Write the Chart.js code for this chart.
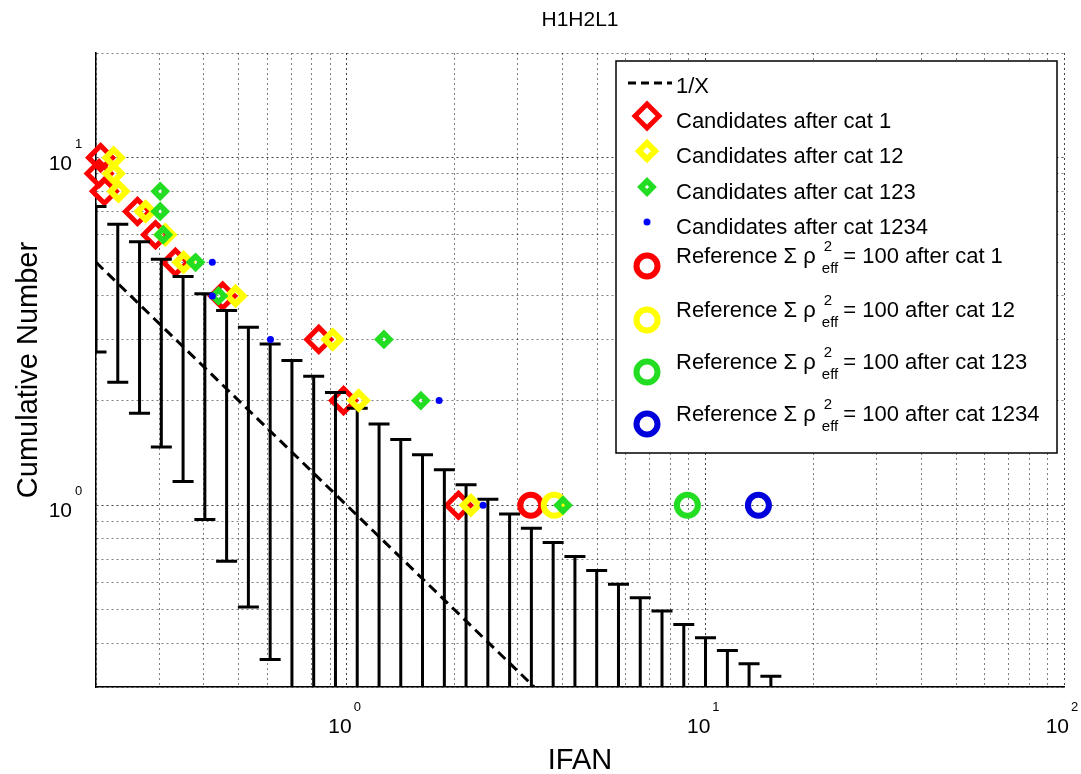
<!DOCTYPE html>
<html>
<head>
<meta charset="utf-8">
<title>H1H2L1</title>
<script src="https://cdn.jsdelivr.net/npm/chart.js@4.4.1/dist/chart.umd.min.js"></script>
<style>
  html, body { margin: 0; padding: 0; background: #fff; }
  #wrap { width: 1081px; height: 774px; position: relative; }
</style>
</head>
<body>
<div id="wrap"><canvas id="ifanChart"></canvas></div>
<script>
// ---- data ----
// 1/X reference line (end points inside the axes)
const lineX = [0.2, 3.333];
const lineY = [5, 0.3];

// candidates (cumulative number vs IFAN)
const redX = [0.206, 0.204, 0.211, 0.261, 0.293, 0.333, 0.451, 0.836, 0.98, 2.05];
const redY = [10, 9, 8, 7, 6, 5, 4, 3, 2, 1];
const yellowX = [0.224, 0.224, 0.231, 0.275, 0.312, 0.351, 0.490, 0.914, 1.08, 2.22];
const yellowY = [10, 9, 8, 7, 6, 5, 4, 3, 2, 1];
const greenX = [0.302, 0.302, 0.308, 0.379, 0.439, 1.27, 1.61, 4.01];
const greenY = [8, 7, 6, 5, 4, 3, 2, 1];
const blueX = [0.422, 0.422, 0.613, 1.81, 2.40];
const blueY = [5, 4, 3, 2, 1];

// reference events (sum rho^2 = 100), one per category
const refX = [3.26, 3.79, 8.91, 14.06];   // cat 1, 12, 123, 1234
const refY = [1, 1, 1, 1];

// background error bars: position, top and bottom (null = runs past the bottom axis)
const barX = [0.200, 0.230, 0.2645, 0.3042, 0.3498, 0.4023, 0.4626, 0.5320, 0.6118, 0.7036,
              0.8091, 0.9305, 1.070, 1.231, 1.415, 1.627, 1.872, 2.152, 2.475, 2.846,
              3.273, 3.764, 4.329, 4.978, 5.725, 6.584, 7.571, 8.707, 10.01, 11.52,
              13.24, 15.23];
const barUpper = [7.24, 6.43, 5.73, 5.10, 4.55, 4.06, 3.63, 3.25, 2.91, 2.61,
                  2.35, 2.11, 1.90, 1.714, 1.547, 1.398, 1.265, 1.146, 1.040, 0.944,
                  0.858, 0.781, 0.712, 0.649, 0.593, 0.542, 0.496, 0.454, 0.416, 0.382,
                  0.350, 0.322];
const barLower = [2.76, 2.26, 1.84, 1.47, 1.17, 0.91, 0.69, 0.51, 0.36, null,
                  null, null, null, null, null, null, null, null, null, null,
                  null, null, null, null, null, null, null, null, null, null,
                  null, null];

// axes
const xGridTicks = [0.2, 0.3, 0.4, 0.5, 0.6, 0.7, 0.8, 0.9, 1, 2, 3, 4, 5, 6, 7, 8, 9,
                    10, 20, 30, 40, 50, 60, 70, 80, 90, 100];
const yGridTicks = [0.3, 0.4, 0.5, 0.6, 0.7, 0.8, 0.9, 1, 2, 3, 4, 5, 6, 7, 8, 9, 10, 20];
const xLabelValues = [1, 10, 100];
const xLabelExps = ['0', '1', '2'];
const yLabelValues = [1, 10];
const yLabelExps = ['0', '1'];

const FONT = '"Liberation Sans", Arial, Helvetica, sans-serif';
const RED = '#ff0000', YEL = '#ffff00', GRN = '#22dd22', BLU = '#0000ff';

// marker looks (shared by plot and legend)
const mRedD = { style: 'rectRot', r: 12, bw: 5, color: RED };
const mYelD = { style: 'rectRot', r: 8, bw: 6, color: YEL };
const mGrnD = { style: 'rectRot', r: 6, bw: 5.5, color: GRN };
const mBluDot = { style: 'circle', r: 3.5, bw: 0, color: BLU, filled: true };
const mRedC = { style: 'circle', r: 10.5, bw: 6, color: RED };
const mYelC = { style: 'circle', r: 10.5, bw: 6, color: YEL };
const mGrnC = { style: 'circle', r: 10.5, bw: 6, color: GRN };
const mBluC = { style: 'circle', r: 10.5, bw: 6, color: '#0000dd' };

const toPts = (xs, ys) => xs.map((v, i) => ({ x: v, y: ys[i] }));

function markerSet(label, pts, m, order) {
    return {
        label: label,
        data: pts,
        showLine: false,
        pointStyle: m.style,
        pointRadius: m.r,
        pointHoverRadius: m.r,
        pointBorderWidth: m.bw,
        pointHoverBorderWidth: m.bw,
        pointBorderColor: m.color,
        pointBackgroundColor: m.filled ? m.color : 'rgba(0,0,0,0)',
        clip: false,
        order: order
    };
}

// draw a marker by hand for the legend
function drawMarker(ctx, m, x, y) {
    ctx.save();
    ctx.lineWidth = m.bw;
    ctx.strokeStyle = m.color;
    ctx.fillStyle = m.color;
    ctx.beginPath();
    if (m.style === 'rectRot') {
        ctx.moveTo(x - m.r, y);
        ctx.lineTo(x, y - m.r);
        ctx.lineTo(x + m.r, y);
        ctx.lineTo(x, y + m.r);
        ctx.closePath();
    } else {
        ctx.arc(x, y, m.r, 0, Math.PI * 2);
    }
    if (m.filled) ctx.fill();
    if (m.bw) ctx.stroke();
    ctx.restore();
}

function drawErrorBars(chart) {
    const { ctx, chartArea: a, scales: { x, y } } = chart;
    const capHalf = 10.5;
    ctx.save();
    ctx.beginPath();
    ctx.rect(a.left, a.top, a.right - a.left, a.bottom - a.top);
    ctx.clip();
    ctx.strokeStyle = '#000';
    ctx.lineWidth = 3;
    barX.forEach((v, i) => {
        const px = x.getPixelForValue(v);
        const top = y.getPixelForValue(barUpper[i]);
        const hasLow = barLower[i] !== null;
        const bot = hasLow ? y.getPixelForValue(barLower[i]) : a.bottom + 5;
        ctx.beginPath();
        ctx.moveTo(px, top);
        ctx.lineTo(px, bot);
        ctx.moveTo(px - capHalf, top);
        ctx.lineTo(px + capHalf, top);
        if (hasLow) {
            ctx.moveTo(px - capHalf, bot);
            ctx.lineTo(px + capHalf, bot);
        }
        ctx.stroke();
    });
    ctx.restore();
}

function drawTexts(chart) {
    const { ctx, chartArea: a, scales: { x, y } } = chart;
    ctx.save();
    ctx.fillStyle = '#000';

    // tick labels as 10^n
    xLabelValues.forEach((v, i) => {
        const px = x.getPixelForValue(v);
        ctx.font = '21px ' + FONT;
        ctx.textAlign = 'right';
        ctx.fillText('10', px + 5, 733);
        ctx.font = '13px ' + FONT;
        ctx.textAlign = 'left';
        ctx.fillText(xLabelExps[i], px + 7, 711);
    });
    yLabelValues.forEach((v, i) => {
        const py = y.getPixelForValue(v);
        ctx.font = '21px ' + FONT;
        ctx.textAlign = 'right';
        ctx.fillText('10', 72, py + 12);
        ctx.font = '13px ' + FONT;
        ctx.textAlign = 'left';
        ctx.fillText(yLabelExps[i], 75, py - 10);
    });

    // title and axis titles
    const cx = (a.left + a.right) / 2;
    ctx.textAlign = 'center';
    ctx.font = '21px ' + FONT;
    ctx.fillText('H1H2L1', cx, 26);
    ctx.font = '29px ' + FONT;
    ctx.fillText('IFAN', cx, 769);
    ctx.save();
    ctx.translate(37, (a.top + a.bottom) / 2);
    ctx.rotate(-Math.PI / 2);
    ctx.fillText('Cumulative Number', 0, 0);
    ctx.restore();
    ctx.restore();
}

function drawLegend(chart) {
    const ctx = chart.ctx;
    const bx = 616, by = 61, bw = 441, bh = 392;
    const mx = 647, tx = 676;
    ctx.save();
    ctx.fillStyle = '#fff';
    ctx.fillRect(bx, by, bw, bh);
    ctx.strokeStyle = '#000';
    ctx.lineWidth = 1.5;
    ctx.strokeRect(bx, by, bw, bh);

    ctx.fillStyle = '#000';
    ctx.textAlign = 'left';
    ctx.font = '22px ' + FONT;

    // 1/X
    ctx.save();
    ctx.strokeStyle = '#000';
    ctx.lineWidth = 3;
    ctx.setLineDash([8, 5]);
    ctx.beginPath();
    ctx.moveTo(628, 83);
    ctx.lineTo(672, 83);
    ctx.stroke();
    ctx.restore();
    ctx.fillText('1/X', tx, 93);

    const cands = [
        ['Candidates after cat 1', mRedD, 128],
        ['Candidates after cat 12', mYelD, 163],
        ['Candidates after cat 123', mGrnD, 199],
        ['Candidates after cat 1234', mBluDot, 234]
    ];
    cands.forEach(([txt, m, base]) => {
        drawMarker(ctx, m, mx, base - 12);
        ctx.fillText(txt, tx, base);
    });

    const refs = [
        ['1', mRedC, 263],
        ['12', mYelC, 317],
        ['123', mGrnC, 369],
        ['1234', mBluC, 421]
    ];
    refs.forEach(([cat, m, base]) => {
        drawMarker(ctx, m, mx, base + 3);
        ctx.font = '22px ' + FONT;
        const head = 'Reference \u03A3 \u03C1';
        ctx.fillText(head, tx, base);
        const sx = tx + ctx.measureText(head).width + 6;
        ctx.font = '15px ' + FONT;
        ctx.fillText('2', sx + 2, base - 12);
        ctx.fillText('eff', sx, base + 10);
        const ex = sx + ctx.measureText('eff').width + 5;
        ctx.font = '22px ' + FONT;
        ctx.fillText('= 100 after cat ' + cat, ex, base);
    });
    ctx.restore();
}

const decorations = {
    id: 'decorations',
    afterDatasetDraw(chart, args) {
        // error bars sit above the cat-1 diamonds, below everything drawn later
        if (args.index === 1) drawErrorBars(chart);
    },
    afterDraw(chart) {
        drawTexts(chart);
        drawLegend(chart);
    }
};

const gridColor = (c) => {
    const v = c.tick ? c.tick.value : 0;
    const isMajor = Math.abs(Math.log10(v) - Math.round(Math.log10(v))) < 1e-9;
    return isMajor ? 'rgba(0,0,0,0.75)' : 'rgba(0,0,0,0.5)';
};

const ctx = document.getElementById('ifanChart').getContext('2d');
new Chart(ctx, {
    type: 'scatter',
    data: {
        datasets: [
            {
                label: '1/X',
                data: toPts(lineX, lineY),
                showLine: true,
                borderColor: '#000',
                borderWidth: 3,
                borderDash: [10, 6],
                pointRadius: 0,
                pointHoverRadius: 0,
                order: 9
            },
            markerSet('Candidates after cat 1', toPts(redX, redY), mRedD, 8),
            markerSet('Reference after cat 1', [{ x: refX[0], y: refY[0] }], mRedC, 7),
            markerSet('Candidates after cat 12', toPts(yellowX, yellowY), mYelD, 6),
            markerSet('Reference after cat 12', [{ x: refX[1], y: refY[1] }], mYelC, 5),
            markerSet('Candidates after cat 123', toPts(greenX, greenY), mGrnD, 4),
            markerSet('Reference after cat 123', [{ x: refX[2], y: refY[2] }], mGrnC, 3),
            markerSet('Candidates after cat 1234', toPts(blueX, blueY), mBluDot, 2),
            markerSet('Reference after cat 1234', [{ x: refX[3], y: refY[3] }], mBluC, 1)
        ]
    },
    options: {
        responsive: true,
        maintainAspectRatio: false,
        animation: false,
        events: [],
        layout: { autoPadding: false, padding: { left: 96, top: 53, right: 17, bottom: 87 } },
        plugins: {
            legend: { display: false },
            title: { display: false },
            tooltip: { enabled: false }
        },
        scales: {
            x: {
                type: 'logarithmic',
                min: 0.2,
                max: 100,
                afterBuildTicks: (s) => { s.ticks = xGridTicks.map(v => ({ value: v })); },
                ticks: { display: false },
                grid: { color: gridColor, lineWidth: 1, drawTicks: false },
                border: { display: true, color: '#000', width: 1.5, dash: [2, 3] },
                title: { display: false }
            },
            y: {
                type: 'logarithmic',
                min: 0.3,
                max: 20,
                afterBuildTicks: (s) => { s.ticks = yGridTicks.map(v => ({ value: v })); },
                ticks: { display: false },
                grid: { color: gridColor, lineWidth: 1, drawTicks: false },
                border: { display: true, color: '#000', width: 1.5, dash: [2, 3] },
                title: { display: false }
            }
        }
    },
    plugins: [decorations]
});
</script>
</body>
</html>
